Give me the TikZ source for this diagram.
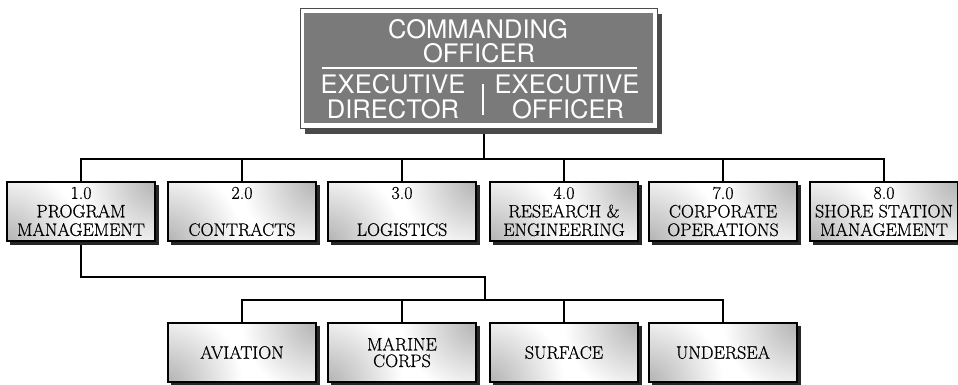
\documentclass[tikz,border=0pt]{standalone}
\usepackage{fontspec}
\newfontfamily\heros{TeX Gyre Heros}
\newfontfamily\boxfont{Latin Modern Roman}[FakeBold=0.6]
\usetikzlibrary{shadows,backgrounds}
\pgfdeclarelayer{boxes}
\pgfsetlayers{background,boxes,main}
\definecolor{topgray}{HTML}{7A7A7A}
\definecolor{shadowgray}{HTML}{4A4A4A}
\newcommand\orgboxbody[1]{%
  \fill[black!85] ([xshift=3.5pt,yshift=-3.5pt]#1.south west) rectangle ([xshift=3.5pt,yshift=-3.5pt]#1.north east);
  \fill[white] (#1.south west) rectangle (#1.north east);
  \begin{scope}
    \clip (#1.south west) rectangle (#1.north east);
    \shade[inner color=black!30, outer color=white] (#1.south west) circle (75pt);
    \shade[inner color=black!30, outer color=white] (#1.north east) circle (75pt);
  \end{scope}}
\begin{document}
\begin{tikzpicture}[x=1pt,y=-1pt,
  conn/.style={draw=black, line width=1.1pt},
  orgbox/.style={draw=black, line width=1.2pt, minimum width=148pt, minimum height=59pt,
    inner sep=0pt, align=center},
  lvone/.style={orgbox, font=\boxfont\fontsize{18}{18.5}\selectfont},
  lvtwo/.style={orgbox, font=\boxfont\fontsize{18}{16.5}\selectfont},
  cotext/.style={text=white, font=\heros\fontsize{25.5}{25.5}\selectfont, anchor=base, inner sep=0pt},
]
\useasboundingbox (0,0) rectangle (958,384);

% top box
\node[draw=black!70, line width=0.6pt, fill=white, minimum width=357pt, minimum height=120pt,
  inner sep=0pt, drop shadow={shadow xshift=5pt,shadow yshift=-6pt,fill=shadowgray,opacity=1}]
  (co) at (478.5,68) {};
\fill[topgray] ([xshift=4pt,yshift=-5pt]co.north west) rectangle ([xshift=-4pt,yshift=5pt]co.south east);
\draw[white, line width=2pt] (322,68) -- (637,68);
\draw[white, line width=2.5pt] (483,84) -- (483,115);
\node[cotext] (t1) at (478,38) {COMMANDING};
\node[cotext] (t2) at (479,62) {OFFICER};
\node[cotext] (t3) at (393,93) {EXECUTIVE};
\node[cotext] (t4) at (567,93) {EXECUTIVE};
\node[cotext] (t5) at (393,118) {DIRECTOR};
\node[cotext] (t6) at (568,118) {OFFICER};

% level 1
\node[lvone] (a1) at (81,211.5) {1.0\\PROGRAM\\MANAGEMENT};
\node[lvone] (a2) at (242,211.5) {2.0\\\mbox{}\\CONTRACTS};
\node[lvone] (a3) at (402,211.5) {3.0\\\mbox{}\\LOGISTICS};
\node[lvone] (a4) at (564,211.5) {4.0\\RESEARCH \&\\ENGINEERING};
\node[lvone] (a5) at (723,211.5) {7.0\\CORPORATE\\OPERATIONS};
\node[lvone] (a6) at (884,211.5) {8.0\\SHORE STATION\\MANAGEMENT};

% level 2
\node[lvtwo] (b1) at (242,352.5) {AVIATION};
\node[lvtwo] (b2) at (402,352.5) {MARINE\\CORPS};
\node[lvtwo] (b3) at (564,352.5) {SURFACE};
\node[lvtwo] (b4) at (723,352.5) {UNDERSEA};

\begin{pgfonlayer}{boxes}
\orgboxbody{a1}\orgboxbody{a2}\orgboxbody{a3}\orgboxbody{a4}\orgboxbody{a5}\orgboxbody{a6}
\orgboxbody{b1}\orgboxbody{b2}\orgboxbody{b3}\orgboxbody{b4}
\end{pgfonlayer}

\coordinate (bus1) at (484,159);
\coordinate (elbow) at (485,277);
\coordinate (bus2) at (485,300);

\begin{pgfonlayer}{background}
\draw[conn] ([xshift=5.5pt]co.south) -- (bus1);
\draw[conn] (a1.north) |- (bus1) -| (a6.north);
\draw[conn] (a2.north) -- (a2.north |- bus1);
\draw[conn] (a3.north) -- (a3.north |- bus1);
\draw[conn] (a4.north) -- (a4.north |- bus1);
\draw[conn] (a5.north) -- (a5.north |- bus1);
\draw[conn] (a1.south) |- (elbow) -- (bus2);
\draw[conn] (b1.north) |- (bus2) -| (b4.north);
\draw[conn] (b2.north) -- (b2.north |- bus2);
\draw[conn] (b3.north) -- (b3.north |- bus2);
\end{pgfonlayer}
\end{tikzpicture}
\end{document}
